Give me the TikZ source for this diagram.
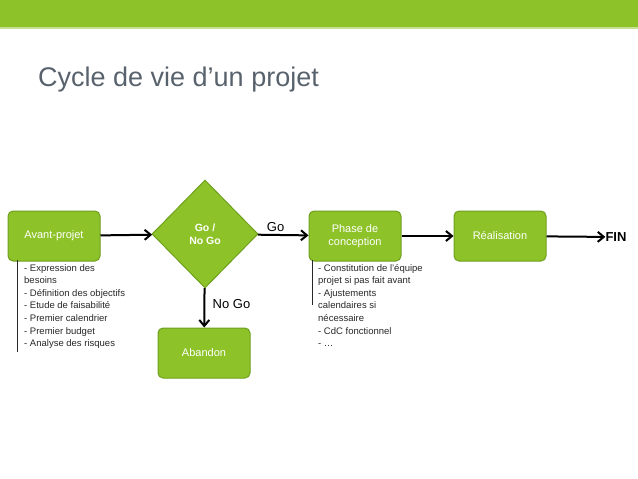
\documentclass[tikz,border=0pt]{standalone}
\usepackage{fontspec}
\setmainfont{Liberation Sans}
\usetikzlibrary{shapes.geometric,arrows.meta}
\definecolor{vert}{RGB}{141,194,40}
\definecolor{vertb}{RGB}{110,160,30}
\definecolor{titre}{RGB}{88,98,108}
\definecolor{liste}{RGB}{40,40,40}
\tikzset{
  box/.style={draw=vertb,line width=1pt,fill=vert,rounded corners=5pt,minimum width=92pt,minimum height=50pt,text=white,font=\fontsize{11}{13}\selectfont,align=center,inner sep=0pt},
  losange/.style={diamond,draw=vertb,line width=1pt,fill=vert,minimum width=106pt,minimum height=108pt,aspect=1,text=white,font=\bfseries\fontsize{10.5}{13}\selectfont,align=center,inner sep=0pt},
  fl/.style={-{Straight Barb[length=6pt,width=10pt]},line width=2pt},
  lst/.style={anchor=north west,align=left,text=liste,font=\fontsize{9.5}{12.6}\selectfont,inner sep=0pt},
  bar/.style={draw=liste,line width=1pt}
}
\begin{document}
\begin{tikzpicture}[x=1pt,y=-1pt]
\useasboundingbox (0,0) rectangle (638,479);
\fill[vert] (0,0) rectangle (638,27);
\fill[vert!50] (0,27) rectangle (638,29);
\node[anchor=base west,text=titre,font=\fontsize{27}{30}\selectfont,inner sep=0pt] (t) at (38,86) {Cycle de vie d’un projet};
\node[box] (a) at (54,236) {Avant-projet};
\node[losange] (g) at (205,234) {Go /\\No Go};
\node[box] (p) at (355,236) {Phase de\\conception};
\node[box] (r) at (500,236) {Réalisation};
\node[box] (ab) at (204,353) {Abandon};
\node[font=\bfseries\fontsize{13}{15}\selectfont,inner sep=0pt] (fin) at (616,237) {FIN};
\draw[fl] (a) -- (g);
\draw[fl] (g) -- node[above,pos=0.35,font=\fontsize{13}{15}\selectfont,yshift=-1pt] {Go} (p);
\draw[fl] (p) -- (r);
\draw[fl] (r) -- (fin);
\draw[fl] (g) -- node[right,pos=0.4,font=\fontsize{13}{15}\selectfont,xshift=4pt] {No Go} (ab);
\coordinate (b1) at (17,260); \coordinate (b2) at (17,352);
\draw[bar] (b1) -- (b2);
\node[lst] (l1) at (24,264) {- Expression des\\besoins\\- Définition des objectifs\\- Etude de faisabilité\\- Premier calendrier\\- Premier budget\\- Analyse des risques};
\coordinate (c1) at (312,260); \coordinate (c2) at (312,305);
\draw[bar] (c1) -- (c2);
\node[lst] (l2) at (318,264) {- Constitution de l’équipe\\projet si pas fait avant\\- Ajustements\\calendaires si\\nécessaire\\- CdC fonctionnel\\- …};
\end{tikzpicture}
\end{document}
